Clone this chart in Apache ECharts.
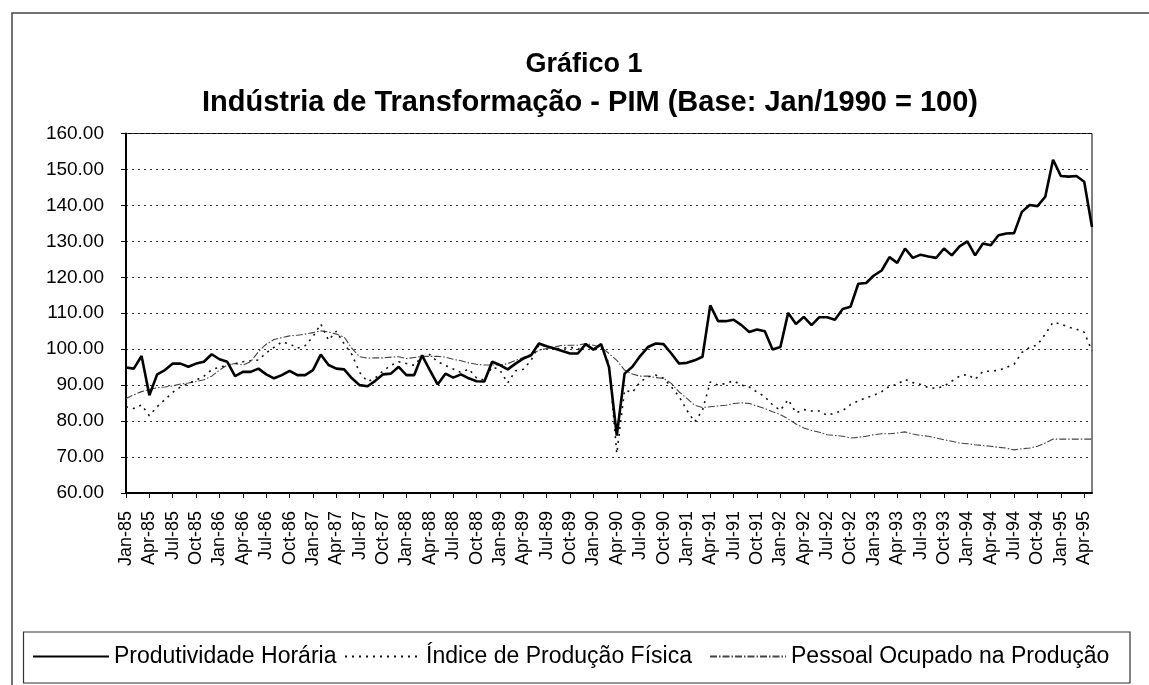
<!DOCTYPE html>
<html>
<head>
<meta charset="utf-8">
<script src="https://cdn.jsdelivr.net/npm/echarts@6/dist/echarts.min.js"></script>
<style>
html,body{margin:0;padding:0;background:#fff;}
#chart{width:1149px;height:685px;}
</style>
</head>
<body>
<div id="chart"></div>
<script>
// ---- Data (Jan-85 .. May-95, monthly) ----
var monthNames = ['Jan','Feb','Mar','Apr','May','Jun','Jul','Aug','Sep','Oct','Nov','Dec'];
var years = ['85','86','87','88','89','90','91','92','93','94','95'];
var lastMonthIndex1995 = 4; // May-95

var produtividadeHoraria = [
  94.9, 94.6, 98.1, 87.2, 93.0, 94.2, 96.0, 96.0, 95.1, 96.0, 96.5, 98.6,
  97.2, 96.5, 92.5, 93.7, 93.7, 94.6, 93.0, 91.9, 92.8, 94.0, 92.8, 92.8,
  94.2, 98.5, 95.6, 94.6, 94.4, 91.9, 90.0, 89.7, 91.2, 93.0, 93.2, 95.1,
  92.8, 92.8, 98.3, 94.2, 90.2, 93.2, 92.1, 93.0, 91.9, 91.1, 91.0, 96.5,
  95.6, 94.4, 96.0, 97.4, 98.3, 101.6, 100.8, 100.2, 99.5, 98.8, 98.8, 101.4,
  99.9, 101.4, 95.0, 76.0, 93.2, 95.1, 98.1, 100.6, 101.6, 101.4, 98.8, 96.0,
  96.2, 96.9, 97.9, 112.2, 107.8, 107.8, 108.2, 106.7, 104.8, 105.5, 105.0, 99.9,
  100.6, 110.1, 107.0, 109.0, 106.7, 108.9, 108.9, 108.2, 111.2, 111.8, 118.2, 118.4,
  120.5, 121.9, 125.6, 124.0, 128.0, 125.4, 126.3, 125.8, 125.4, 128.0, 126.1, 128.6,
  130.0, 126.1, 129.4, 128.9, 131.7, 132.2, 132.3, 138.2, 140.1, 139.8, 142.4, 152.7,
  148.2, 148.0, 148.2, 146.6, 134.0
];

var indiceProducaoFisica = [
  84.0, 83.5, 84.5, 81.5, 84.0, 86.0, 88.0, 89.5, 90.5, 91.4, 92.5, 94.3,
  95.0, 95.5, 96.0, 96.5, 96.8, 97.0, 99.0, 100.5, 102.0, 101.5, 100.3, 101.0,
  103.5, 107.0, 102.5, 105.0, 101.5, 98.5, 93.5, 91.0, 92.0, 94.0, 95.5, 96.5,
  96.0, 95.5, 98.0, 98.5, 96.5, 95.5, 94.5, 93.5, 94.5, 92.0, 91.4, 95.1,
  94.2, 90.6, 94.0, 94.4, 96.9, 101.1, 100.8, 100.2, 100.2, 100.6, 99.9, 101.4,
  99.7, 100.6, 96.0, 71.0, 88.6, 88.0, 90.9, 92.3, 92.8, 91.9, 89.5, 86.8,
  83.0, 79.8, 83.0, 90.9, 90.0, 90.5, 91.2, 90.0, 89.5, 88.1, 86.8, 84.5,
  83.0, 86.0, 82.3, 83.2, 82.8, 82.8, 81.6, 82.3, 82.9, 84.6, 85.6, 86.5,
  87.2, 88.2, 89.7, 90.2, 91.6, 90.7, 90.2, 89.3, 89.1, 89.7, 91.1, 92.5,
  93.0, 91.6, 93.8, 93.9, 94.1, 94.9, 95.8, 99.1, 100.5, 101.2, 104.2, 107.5,
  107.0, 106.1, 105.6, 104.7, 99.5
];

var pessoalOcupado = [
  86.3, 87.3, 88.2, 88.8, 89.3, 89.5, 89.8, 90.3, 90.6, 91.0, 91.5, 92.5,
  94.2, 95.6, 96.0, 95.6, 96.5, 99.3, 101.4, 102.7, 103.2, 103.7, 103.9, 104.2,
  104.6, 105.1, 104.8, 104.2, 103.4, 100.2, 97.9, 97.5, 97.6, 97.6, 97.8, 97.9,
  97.4, 97.7, 98.0, 98.0, 98.0, 97.8, 97.2, 96.8, 96.2, 95.8, 95.6, 95.6,
  95.6, 96.0, 96.9, 97.7, 98.6, 99.7, 100.2, 100.6, 101.1, 101.1, 101.1, 101.6,
  101.1, 100.6, 98.8, 96.9, 94.2, 93.1, 92.5, 92.5, 92.1, 91.9, 90.5, 88.1,
  86.3, 84.4, 83.8, 84.0, 84.2, 84.4, 84.9, 85.1, 84.9, 84.2, 83.5, 82.6,
  81.8, 80.6, 79.2, 78.1, 77.4, 76.9, 76.2, 76.0, 75.8, 75.3, 75.5, 75.8,
  76.2, 76.5, 76.5, 76.7, 77.0, 76.4, 76.0, 75.8, 75.3, 74.8, 74.4, 73.9,
  73.7, 73.4, 73.2, 73.0, 72.7, 72.5, 72.0, 72.3, 72.5, 73.0, 73.9, 75.0,
  75.0, 75.0, 75.0, 75.0, 75.0
];

var seriesNames = ['Produtividade Horária', 'Índice de Produção Física', 'Pessoal Ocupado na Produção'];
var titleText = 'Gráfico 1';
var subtitleText = 'Indústria de Transformação - PIM (Base: Jan/1990 = 100)';

// category labels
var categories = [];
for (var y = 0; y < years.length; y++) {
  for (var m = 0; m < 12; m++) {
    if (y === years.length - 1 && m > lastMonthIndex1995) break;
    categories.push(monthNames[m] + '-' + years[y]);
  }
}

var FONT = '"Liberation Sans", Arial, sans-serif';
var chart = echarts.init(document.getElementById('chart'), null, {renderer: 'canvas'});

function legendFor(name, left, width) {
  return {
    data: [name],
    left: left,
    top: 645,
    padding: 0,
    itemWidth: width,
    itemHeight: 14,
    selectedMode: false,
    itemStyle: {opacity: 0, borderWidth: 0},
    textStyle: {fontSize: 23, color: '#000', fontFamily: FONT}
  };
}

var option = {
  animation: false,
  backgroundColor: '#fff',
  textStyle: {fontFamily: FONT},
  grid: {
    left: 126, right: 57, top: 133.5, bottom: 192,
    show: true, borderColor: '#000', borderWidth: 1, backgroundColor: 'transparent'
  },
  legend: [
    legendFor(seriesNames[0], 32, 76),
    legendFor(seriesNames[1], 344, 76),
    legendFor(seriesNames[2], 709, 76)
  ],
  xAxis: {
    type: 'category',
    data: categories,
    boundaryGap: false,
    axisLine: {show: true, lineStyle: {color: '#000', width: 2}},
    axisTick: {show: true, interval: 2, length: 5, lineStyle: {color: '#000', width: 1}},
    axisLabel: {interval: 2, rotate: 90, fontSize: 18, color: '#000', margin: 18, fontFamily: FONT},
    splitLine: {show: false}
  },
  yAxis: {
    type: 'value',
    min: 60, max: 160, interval: 10,
    axisLine: {show: true, lineStyle: {color: '#000', width: 2}},
    axisTick: {show: true, length: 5, lineStyle: {color: '#000'}},
    axisLabel: {
      fontSize: 19, color: '#000', margin: 22, fontFamily: FONT,
      formatter: function (v) { return v.toFixed(2); }
    },
    splitLine: {show: true, lineStyle: {color: '#333', width: 1, type: [2, 4]}}
  },
  series: [
    {
      name: seriesNames[0], type: 'line', data: produtividadeHoraria,
      symbol: 'none', z: 5,
      lineStyle: {color: '#000', width: 2.6}, itemStyle: {color: '#000'}
    },
    {
      name: seriesNames[1], type: 'line', data: indiceProducaoFisica,
      symbol: 'none', z: 4,
      lineStyle: {color: '#111', width: 1.6, type: [2, 5]}, itemStyle: {color: '#111'}
    },
    {
      name: seriesNames[2], type: 'line', data: pessoalOcupado,
      symbol: 'none', z: 3,
      lineStyle: {color: '#444', width: 1.1, type: [7, 2, 1.5, 2]}, itemStyle: {color: '#444'}
    }
  ],
  graphic: [
    {
      type: 'polyline', silent: true,
      shape: {points: [[12, 685], [12, 13], [1149, 13]]},
      style: {stroke: '#444', lineWidth: 1.5, fill: null}
    },
    {
      type: 'rect', silent: true,
      shape: {x: 23.5, y: 632, width: 1106.5, height: 51},
      style: {stroke: '#333', lineWidth: 1.2, fill: null}
    },
    {
      type: 'text', silent: true, x: 584, y: 65,
      style: {text: titleText, fill: '#000', font: 'bold 27px ' + FONT,
              align: 'center', verticalAlign: 'middle', textAlign: 'center', textVerticalAlign: 'middle'}
    },
    {
      type: 'text', silent: true, x: 590, y: 102.5,
      style: {text: subtitleText, fill: '#000', font: 'bold 29px ' + FONT,
              align: 'center', verticalAlign: 'middle', textAlign: 'center', textVerticalAlign: 'middle'}
    }
  ]
};
chart.setOption(option);
</script>
</body>
</html>
